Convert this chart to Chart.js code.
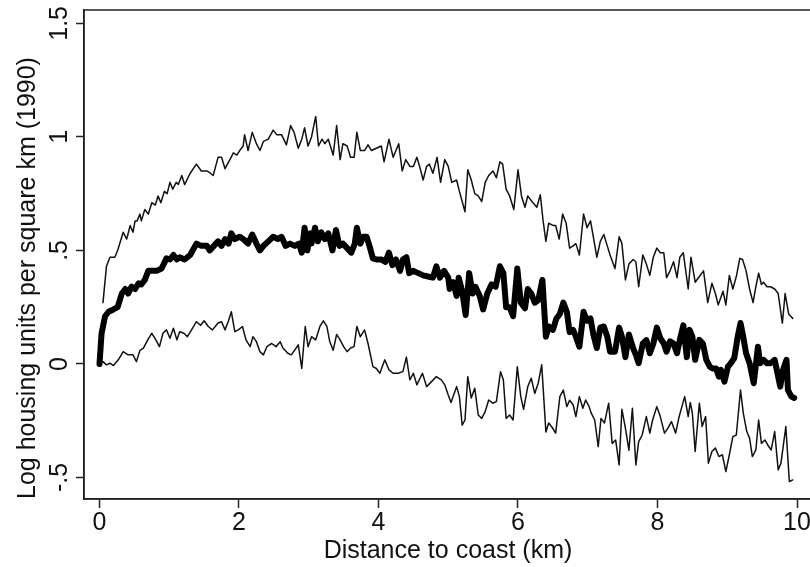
<!DOCTYPE html>
<html>
<head>
<meta charset="utf-8">
<script src="https://cdn.jsdelivr.net/npm/chart.js@4.4.1/dist/chart.umd.min.js"></script>
<style>
html,body{margin:0;padding:0;background:#fff;overflow:hidden;}
canvas{display:block;}
</style>
</head>
<body>
<canvas id="c" width="830" height="567"></canvas>
<script>
// ---- data (distance km, log housing units) ----
const xTitle = 'Distance to coast (km)';
const yTitle = 'Log housing units per square km (1990)';
const xTicks = [0, 2, 4, 6, 8, 10];
const xTickLabels = ['0', '2', '4', '6', '8', '10'];
const yTicks = [-0.5, 0, 0.5, 1, 1.5];
const yTickLabels = ['-.5', '0', '.5', '1', '1.5'];

const upperBand = [[0.05,.27],[0.10,.43],[0.15,.47],[0.22,.47],[0.26,.50],[0.32,.56],[0.34,.58],[0.39,.55],[0.44,.61],[0.48,.58],[0.51,.63],[0.54,.63],[0.58,.66],[0.60,.63],[0.65,.68],[0.70,.66],[0.75,.71],[0.80,.70],[0.84,.74],[0.88,.71],[0.93,.76],[0.97,.75],[1.01,.80],[1.05,.77],[1.10,.80],[1.13,.79],[1.18,.83],[1.22,.79],[1.30,.84],[1.39,.88],[1.46,.85],[1.54,.85],[1.59,.84],[1.63,.83],[1.70,.91],[1.75,.91],[1.80,.86],[1.87,.90],[1.92,.93],[1.97,.92],[2.01,.94],[2.06,.96],[2.08,1.01],[2.13,.94],[2.19,1.02],[2.25,.97],[2.30,.94],[2.35,.98],[2.42,.99],[2.49,1.03],[2.54,1.01],[2.61,1.01],[2.68,.965],[2.74,1.05],[2.79,1.02],[2.85,.95],[2.90,.99],[2.94,1.04],[2.99,.96],[3.04,1.00],[3.10,1.09],[3.14,.96],[3.19,.99],[3.23,.97],[3.28,.99],[3.35,.92],[3.40,1.05],[3.45,.90],[3.49,.97],[3.55,.96],[3.60,.91],[3.65,.91],[3.69,1.02],[3.74,.94],[3.80,.94],[3.85,.965],[3.90,.94],[3.97,.95],[4.04,.96],[4.08,.89],[4.15,.99],[4.21,.91],[4.29,.97],[4.34,.85],[4.39,.90],[4.45,.87],[4.50,.87],[4.55,.91],[4.59,.87],[4.64,.81],[4.69,.87],[4.73,.88],[4.78,.84],[4.84,.91],[4.89,.80],[4.95,.90],[5.00,.87],[5.05,.80],[5.12,.81],[5.16,.76],[5.24,.67],[5.28,.855],[5.33,.81],[5.38,.75],[5.43,.74],[5.48,.715],[5.53,.80],[5.58,.83],[5.64,.85],[5.69,.82],[5.74,.89],[5.78,.88],[5.83,.77],[5.88,.74],[5.94,.68],[6.00,.855],[6.05,.74],[6.10,.69],[6.14,.74],[6.20,.715],[6.27,.69],[6.32,.745],[6.36,.63],[6.40,.54],[6.44,.62],[6.50,.61],[6.54,.61],[6.59,.55],[6.64,.66],[6.69,.62],[6.74,.51],[6.79,.52],[6.83,.53],[6.88,.48],[6.94,.66],[6.99,.60],[7.04,.63],[7.08,.56],[7.13,.47],[7.18,.54],[7.23,.57],[7.28,.52],[7.32,.48],[7.39,.42],[7.45,.56],[7.49,.53],[7.54,.37],[7.59,.44],[7.65,.46],[7.69,.45],[7.73,.34],[7.79,.48],[7.84,.44],[7.89,.39],[7.94,.47],[7.99,.51],[8.04,.49],[8.09,.49],[8.13,.38],[8.18,.41],[8.23,.45],[8.28,.38],[8.32,.47],[8.37,.49],[8.44,.33],[8.48,.47],[8.54,.36],[8.60,.385],[8.66,.41],[8.72,.27],[8.78,.355],[8.83,.31],[8.87,.26],[8.94,.32],[8.98,.26],[9.03,.39],[9.08,.33],[9.13,.385],[9.18,.465],[9.22,.46],[9.27,.41],[9.32,.33],[9.37,.27],[9.41,.34],[9.45,.40],[9.49,.35],[9.52,.36],[9.57,.34],[9.62,.34],[9.68,.33],[9.73,.31],[9.79,.18],[9.83,.31],[9.88,.22],[9.94,.20]];

const estimate = [[0,0],[0.03,.135],[0.08,.21],[0.13,.23],[0.20,.24],[0.26,.25],[0.32,.31],[0.37,.33],[0.41,.31],[0.46,.34],[0.51,.33],[0.56,.355],[0.60,.35],[0.65,.37],[0.70,.41],[0.75,.41],[0.82,.41],[0.89,.42],[0.96,.465],[1.01,.46],[1.06,.48],[1.11,.46],[1.15,.47],[1.22,.46],[1.30,.48],[1.39,.53],[1.46,.52],[1.54,.52],[1.58,.50],[1.64,.52],[1.70,.54],[1.75,.52],[1.80,.55],[1.85,.53],[1.89,.575],[1.94,.55],[2.01,.56],[2.06,.55],[2.13,.53],[2.19,.57],[2.25,.53],[2.30,.50],[2.35,.52],[2.42,.54],[2.49,.56],[2.56,.55],[2.61,.56],[2.67,.52],[2.73,.53],[2.80,.52],[2.86,.53],[2.90,.49],[2.94,.60],[2.98,.50],[3.02,.575],[3.04,.53],[3.09,.60],[3.13,.54],[3.18,.58],[3.23,.55],[3.28,.575],[3.34,.50],[3.39,.59],[3.44,.52],[3.49,.53],[3.55,.51],[3.61,.49],[3.66,.53],[3.69,.60],[3.74,.53],[3.78,.56],[3.83,.56],[3.87,.52],[3.92,.465],[3.97,.46],[4.04,.46],[4.10,.45],[4.15,.49],[4.20,.435],[4.25,.46],[4.31,.41],[4.35,.46],[4.40,.47],[4.44,.40],[4.50,.41],[4.57,.40],[4.64,.39],[4.71,.385],[4.78,.38],[4.83,.43],[4.88,.38],[4.94,.41],[5.00,.38],[5.02,.33],[5.07,.36],[5.12,.30],[5.15,.38],[5.20,.32],[5.25,.215],[5.30,.40],[5.35,.31],[5.39,.34],[5.45,.30],[5.50,.24],[5.56,.31],[5.62,.35],[5.68,.34],[5.74,.43],[5.79,.40],[5.83,.25],[5.88,.25],[5.93,.21],[5.99,.42],[6.04,.27],[6.10,.245],[6.14,.33],[6.19,.31],[6.24,.27],[6.29,.28],[6.35,.37],[6.40,.12],[6.44,.165],[6.50,.15],[6.55,.20],[6.60,.22],[6.65,.27],[6.70,.23],[6.74,.14],[6.79,.15],[6.83,.12],[6.88,.076],[6.94,.23],[6.99,.19],[7.04,.20],[7.08,.13],[7.13,.07],[7.18,.16],[7.23,.165],[7.28,.12],[7.32,.054],[7.39,.054],[7.45,.16],[7.49,.12],[7.54,.03],[7.59,.13],[7.65,.07],[7.69,.04],[7.73,.003],[7.79,.09],[7.84,.105],[7.89,.047],[7.94,.09],[7.99,.16],[8.04,.113],[8.09,.09],[8.13,.054],[8.18,.10],[8.23,.09],[8.28,.047],[8.32,.106],[8.37,.17],[8.42,.03],[8.46,.15],[8.50,.12],[8.54,.018],[8.60,.106],[8.65,.09],[8.70,.018],[8.75,-.012],[8.79,-.02],[8.84,-.02],[8.88,-.056],[8.91,-.026],[8.96,-.078],[9.01,-.012],[9.05,.003],[9.10,.025],[9.15,.12],[9.19,.18],[9.22,.135],[9.27,.047],[9.32,.003],[9.38,-.085],[9.44,.076],[9.47,.003],[9.52,.018],[9.57,.003],[9.62,.003],[9.68,.018],[9.73,-.056],[9.76,-.10],[9.80,-.026],[9.85,.018],[9.87,-.115],[9.92,-.144],[9.96,-.15]];

const lowerBand = [[0,.003],[0.05,.01],[0.10,-.004],[0.15,.003],[0.20,-.007],[0.27,.018],[0.34,.054],[0.41,.04],[0.48,.04],[0.53,.01],[0.58,.06],[0.63,.07],[0.70,.11],[0.75,.135],[0.80,.11],[0.86,.076],[0.91,.135],[0.96,.15],[1.01,.113],[1.06,.157],[1.11,.106],[1.15,.142],[1.21,.135],[1.26,.12],[1.32,.15],[1.39,.186],[1.45,.17],[1.50,.19],[1.56,.165],[1.62,.15],[1.70,.18],[1.75,.186],[1.80,.15],[1.85,.19],[1.89,.23],[1.94,.142],[1.99,.15],[2.05,.165],[2.10,.106],[2.16,.076],[2.20,.12],[2.25,.098],[2.30,.054],[2.35,.04],[2.40,.076],[2.47,.09],[2.53,.076],[2.59,.098],[2.63,.07],[2.70,.047],[2.75,.04],[2.82,.07],[2.85,.084],[2.90,-.02],[2.95,.165],[2.99,.076],[3.04,.12],[3.10,.106],[3.16,.165],[3.21,.19],[3.26,.165],[3.30,.10],[3.35,.06],[3.40,.13],[3.45,.106],[3.50,.076],[3.55,.054],[3.60,.07],[3.65,.076],[3.69,.165],[3.74,.12],[3.80,.15],[3.85,.09],[3.92,-.012],[3.97,-.02],[4.02,-.041],[4.09,.018],[4.15,-.026],[4.21,-.041],[4.28,-.041],[4.35,-.034],[4.40,.03],[4.45,-.07],[4.50,-.041],[4.55,-.092],[4.63,-.041],[4.69,-.10],[4.76,-.078],[4.83,-.056],[4.90,-.07],[4.95,-.092],[5.00,-.137],[5.04,-.17],[5.12,-.10],[5.16,-.144],[5.20,-.27],[5.24,-.247],[5.28,-.056],[5.33,-.15],[5.38,-.107],[5.43,-.225],[5.48,-.24],[5.53,-.21],[5.58,-.159],[5.64,-.173],[5.69,-.166],[5.75,-.034],[5.79,-.07],[5.83,-.24],[5.88,-.225],[5.93,-.247],[5.99,-.012],[6.04,-.144],[6.08,-.20],[6.14,-.10],[6.19,-.063],[6.24,-.13],[6.29,-.085],[6.34,-.004],[6.40,-.30],[6.44,-.26],[6.49,-.28],[6.54,-.305],[6.60,-.144],[6.65,-.115],[6.70,-.188],[6.74,-.16],[6.79,-.18],[6.83,-.232],[6.88,-.144],[6.93,-.195],[6.97,-.159],[7.02,-.188],[7.05,-.217],[7.10,-.247],[7.15,-.364],[7.19,-.24],[7.24,-.26],[7.30,-.173],[7.35,-.35],[7.40,-.335],[7.45,-.445],[7.49,-.20],[7.54,-.283],[7.59,-.38],[7.64,-.195],[7.69,-.445],[7.73,-.342],[7.78,-.313],[7.84,-.232],[7.89,-.305],[7.93,-.247],[7.99,-.188],[8.04,-.232],[8.10,-.305],[8.15,-.283],[8.20,-.254],[8.26,-.305],[8.31,-.232],[8.39,-.144],[8.44,-.232],[8.47,-.17],[8.50,-.217],[8.54,-.386],[8.60,-.173],[8.64,-.276],[8.69,-.232],[8.73,-.437],[8.78,-.386],[8.83,-.371],[8.88,-.408],[8.93,-.40],[8.98,-.474],[9.03,-.40],[9.08,-.32],[9.13,-.313],[9.19,-.115],[9.23,-.217],[9.28,-.298],[9.32,-.327],[9.36,-.408],[9.41,-.379],[9.45,-.247],[9.49,-.35],[9.54,-.335],[9.58,-.357],[9.63,-.379],[9.68,-.298],[9.73,-.467],[9.77,-.437],[9.84,-.276],[9.89,-.518],[9.94,-.511]];

// ---- styling / layout ----
const FONT = "'Liberation Sans', Arial, Helvetica, sans-serif";
const FS = 25;
const INK = '#111';
const FRAME = '#222';
const toXY = arr => arr.map(p => ({x: p[0], y: p[1]}));

const framePlugin = {
  id: 'frame',
  beforeDatasetsDraw(chart) {
    const {ctx, chartArea: a} = chart;
    ctx.save();
    ctx.strokeStyle = FRAME;
    ctx.lineWidth = 1.5;
    ctx.strokeRect(a.left, a.top, a.right - a.left, a.bottom - a.top);
    ctx.restore();
  }
};

const yLabelPlugin = {
  id: 'yLabels',
  afterDraw(chart) {
    const s = chart.scales.y;
    const ctx = chart.ctx;
    ctx.save();
    ctx.fillStyle = INK;
    ctx.font = FS + 'px ' + FONT;
    ctx.textAlign = 'center';
    ctx.textBaseline = 'middle';
    s.ticks.forEach(t => {
      const py = s.getPixelForValue(t.value);
      ctx.save();
      ctx.translate(60, py);
      ctx.rotate(-Math.PI / 2);
      ctx.fillText(yTickLabels[yTicks.indexOf(t.value)], 0, 0);
      ctx.restore();
    });
    ctx.restore();
  }
};

new Chart(document.getElementById('c'), {
  type: 'line',
  data: {
    datasets: [
      {data: toXY(upperBand), borderColor: INK, borderWidth: 1.5},
      {data: toXY(lowerBand), borderColor: INK, borderWidth: 1.5},
      {data: toXY(estimate), borderColor: '#000', borderWidth: 6}
    ]
  },
  options: {
    responsive: false,
    animation: false,
    devicePixelRatio: 1,
    layout: {padding: {top: 10, right: 18, left: 0, bottom: 0}},
    plugins: {legend: {display: false}, tooltip: {enabled: false}},
    elements: {
      point: {radius: 0},
      line: {tension: 0, borderJoinStyle: 'round', borderCapStyle: 'round'}
    },
    scales: {
      x: {
        type: 'linear',
        min: -0.222, max: 10.215,
        afterBuildTicks: s => { s.ticks = xTicks.map(v => ({value: v})); },
        afterFit: s => { s.height = 68; },
        ticks: {
          callback: v => xTickLabels[xTicks.indexOf(v)],
          color: INK, font: {family: FONT, size: FS, lineHeight: 1.2},
          padding: 0, maxRotation: 0, autoSkip: false
        },
        grid: {drawOnChartArea: false, drawTicks: true, tickLength: 9, tickColor: FRAME, tickWidth: 1.5},
        border: {display: true, color: FRAME, width: 1.5},
        title: {display: true, text: xTitle, color: INK, font: {family: FONT, size: FS, lineHeight: 1.2}, padding: {top: 0, bottom: 1}}
      },
      y: {
        type: 'linear',
        min: -0.595, max: 1.559,
        afterBuildTicks: s => { s.ticks = yTicks.map(v => ({value: v})); },
        afterFit: s => { s.width = 84; },
        ticks: {display: false},
        grid: {drawOnChartArea: false, drawTicks: true, tickLength: 8, tickColor: FRAME, tickWidth: 1.5},
        border: {display: true, color: FRAME, width: 1.5},
        title: {display: true, text: yTitle, align: 'start', color: INK, font: {family: FONT, size: FS, lineHeight: 1.2}, padding: {top: 13, bottom: 0}}
      }
    }
  },
  plugins: [framePlugin, yLabelPlugin]
});
</script>
</body>
</html>
